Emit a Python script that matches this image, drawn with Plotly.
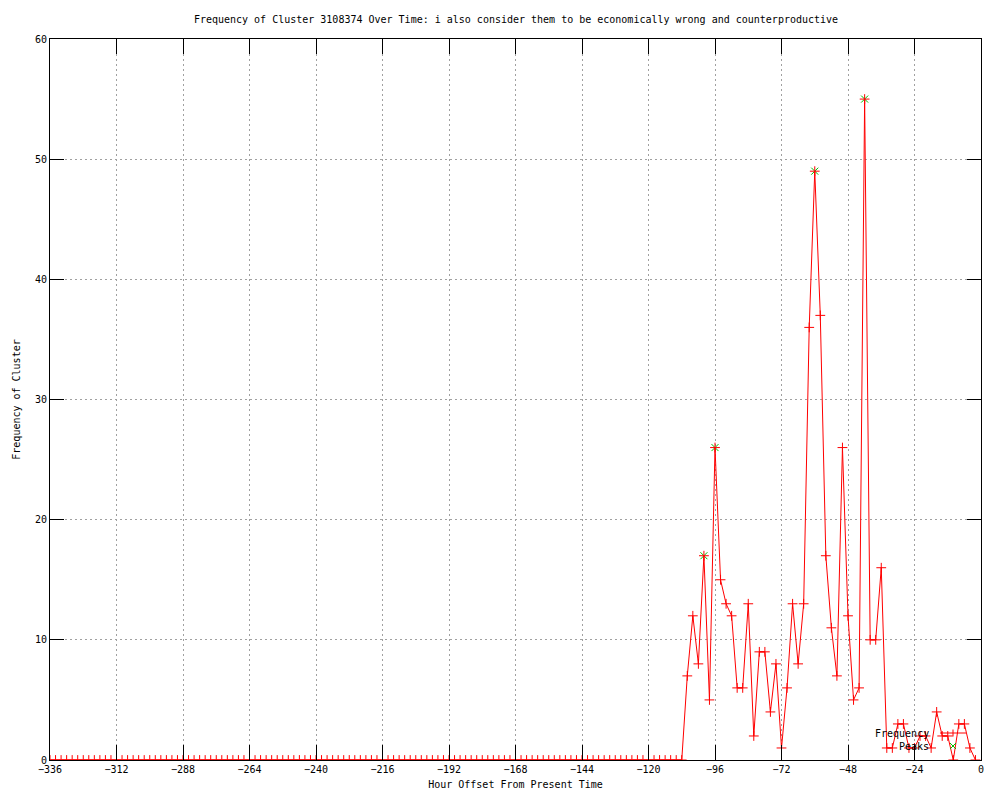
import plotly.graph_objects as go

# ---- data ----
hours = list(range(-336, 0, 2))
freq_tail = [7, 12, 8, 17, 5, 26, 15, 13, 12, 6, 6, 13, 2, 9, 9, 4, 8, 1, 6, 13,
             8, 13, 36, 49, 37, 17, 11, 7, 26, 12, 5, 6, 55, 10, 10, 16, 1, 1, 3, 3,
             1, 1, 2, 2, 1, 4, 2, 2, 0, 3, 3, 1, 0]
frequency = [0] * (len(hours) - len(freq_tail)) + freq_tail
peak_hours = [-100, -96, -60, -42]
peak_values = [17, 26, 49, 55]

x_ticks = list(range(-336, 1, 24))
y_ticks = list(range(0, 61, 10))

title_text = "Frequency of Cluster 3108374 Over Time: i also consider them to be economically wrong and counterproductive"
x_title = "Hour Offset From Present Time"
y_title = "Frequency of Cluster"

FONT = "DejaVu Sans Mono"
RED = "#ff0000"
GREEN = "#00c000"

fig = go.Figure()
fig.add_trace(go.Scatter(
    x=peak_hours, y=peak_values, mode="markers", name="Peaks",
    marker=dict(symbol="x-thin", size=7, line=dict(color=GREEN, width=1), color=GREEN),
    showlegend=False))
fig.add_trace(go.Scatter(
    x=hours, y=frequency, mode="lines+markers", name="Frequency",
    line=dict(color=RED, width=1),
    marker=dict(symbol="cross-thin", size=7, line=dict(color=RED, width=1), color=RED),
    showlegend=False))

# page body has an 8px margin; target plot area in screen pixels: x 50..981, y 39..760
OFF = 8
W, H = 1000, 800
L, R, T, B = 50 - OFF, 981 - OFF, 39 - OFF, 760 - OFF

def px(xs):
    return (xs - OFF - L) / (R - L)

def py(ys):
    return (B - (ys - OFF)) / (B - T)

shapes = []
# legend samples (gnuplot style: text left, sample right)
ly1, ly2 = 733, 746
shapes.append(dict(type="line", xref="paper", yref="paper",
                   x0=px(940), x1=px(966), y0=py(ly1), y1=py(ly1),
                   line=dict(color=RED, width=1)))
shapes.append(dict(type="line", xref="paper", yref="paper",
                   x0=px(953), x1=px(953), y0=py(ly1 - 3.5), y1=py(ly1 + 3.5),
                   line=dict(color=RED, width=1)))
shapes.append(dict(type="line", xref="paper", yref="paper",
                   x0=px(950), x1=px(956), y0=py(ly2 - 3), y1=py(ly2 + 3),
                   line=dict(color=GREEN, width=1)))
shapes.append(dict(type="line", xref="paper", yref="paper",
                   x0=px(950), x1=px(956), y0=py(ly2 + 3), y1=py(ly2 - 3),
                   line=dict(color=GREEN, width=1)))

annotations = [
    dict(text="Frequency", xref="paper", yref="paper", x=px(931), y=py(ly1),
         xanchor="right", yanchor="middle", showarrow=False,
         font=dict(family=FONT, size=10, color="black")),
    dict(text="Peaks", xref="paper", yref="paper", x=px(931), y=py(ly2),
         xanchor="right", yanchor="middle", showarrow=False,
         font=dict(family=FONT, size=10, color="black")),
]

axis_common = dict(
    showline=True, linecolor="black", linewidth=1, mirror="ticks",
    ticks="inside", tickcolor="black", tickwidth=1,
    showgrid=True, gridcolor="#a0a0a0", griddash="2px,3px", gridwidth=1,
    zeroline=False, automargin=False,
    tickfont=dict(family=FONT, size=10, color="black"),
)

fig.update_layout(
    width=W, height=H,
    paper_bgcolor="white", plot_bgcolor="white",
    margin=dict(l=L, r=W - R, t=T, b=H - B, pad=0),
    title=dict(text=title_text, x=(516 - OFF) / W, xanchor="center",
               y=1 - (19 - OFF) / H, yanchor="middle", xref="container", yref="container",
               font=dict(family=FONT, size=10, color="black")),
    xaxis=dict(range=[-336, 0], tickvals=x_ticks, ticklen=15,
               ticktext=[str(v).replace("-", "\u2212") for v in x_ticks],
               title=dict(text=x_title, font=dict(family=FONT, size=10, color="black"), standoff=6),
               **axis_common),
    yaxis=dict(range=[0, 60], tickvals=y_ticks, ticklen=14,
               title=dict(text=y_title, font=dict(family=FONT, size=10, color="black"), standoff=12),
               **axis_common),
    shapes=shapes, annotations=annotations,
    showlegend=False,
)

fig.write_html("out.html")
